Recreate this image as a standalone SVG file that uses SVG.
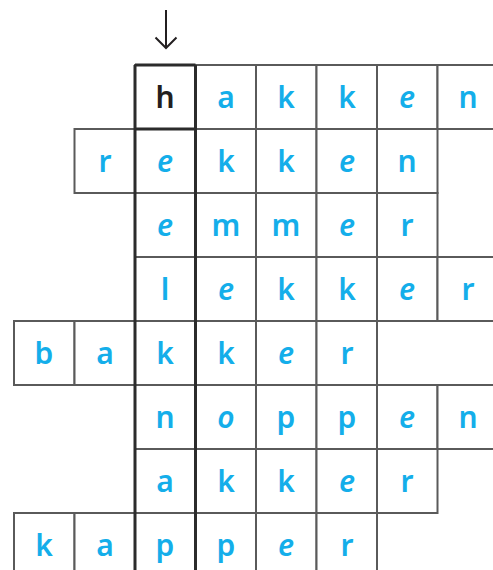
<svg xmlns="http://www.w3.org/2000/svg" width="493" height="570" viewBox="0 0 493 570">
<style>
.c{fill:#fff;stroke:#5a5a5a;stroke-width:2}
.t{font-family:"Noto Sans","Liberation Sans",sans-serif;font-size:30px;font-weight:600;fill:#14aeea;text-anchor:middle}
.i{font-style:italic}
.k{fill:#231f20}
.thick{fill:none;stroke:#2b2b2b;stroke-width:3}
</style>
<rect width="493" height="570" fill="#fff"/>
<g id="row1">
<rect class="c" x="135" y="65" width="60.5" height="64"/><rect class="c" x="195.5" y="65" width="60.5" height="64"/><rect class="c" x="256" y="65" width="60.5" height="64"/><rect class="c" x="316.5" y="65" width="60.5" height="64"/><rect class="c" x="377" y="65" width="60.5" height="64"/><rect class="c" x="437.5" y="65" width="60.5" height="64"/>
<text class="t k" x="165" y="108">h</text><text class="t" x="226" y="108">a</text><text class="t" x="286" y="108">k</text><text class="t" x="347" y="108">k</text><text class="t i" x="407" y="108">e</text><text class="t" x="468" y="108">n</text>
</g>
<g id="row2">
<rect class="c" x="74.5" y="129" width="60.5" height="64"/><rect class="c" x="135" y="129" width="60.5" height="64"/><rect class="c" x="195.5" y="129" width="60.5" height="64"/><rect class="c" x="256" y="129" width="60.5" height="64"/><rect class="c" x="316.5" y="129" width="60.5" height="64"/><rect class="c" x="377" y="129" width="60.5" height="64"/>
<text class="t" x="105" y="172">r</text><text class="t i" x="165" y="172">e</text><text class="t" x="226" y="172">k</text><text class="t" x="286" y="172">k</text><text class="t i" x="347" y="172">e</text><text class="t" x="407" y="172">n</text>
</g>
<g id="row3">
<rect class="c" x="135" y="193" width="60.5" height="64"/><rect class="c" x="195.5" y="193" width="60.5" height="64"/><rect class="c" x="256" y="193" width="60.5" height="64"/><rect class="c" x="316.5" y="193" width="60.5" height="64"/><rect class="c" x="377" y="193" width="60.5" height="64"/>
<text class="t i" x="165" y="236">e</text><text class="t" x="226" y="236">m</text><text class="t" x="286" y="236">m</text><text class="t i" x="347" y="236">e</text><text class="t" x="407" y="236">r</text>
</g>
<g id="row4">
<rect class="c" x="135" y="257" width="60.5" height="64"/><rect class="c" x="195.5" y="257" width="60.5" height="64"/><rect class="c" x="256" y="257" width="60.5" height="64"/><rect class="c" x="316.5" y="257" width="60.5" height="64"/><rect class="c" x="377" y="257" width="60.5" height="64"/><rect class="c" x="437.5" y="257" width="60.5" height="64"/>
<text class="t" x="165" y="300">l</text><text class="t i" x="226" y="300">e</text><text class="t" x="286" y="300">k</text><text class="t" x="347" y="300">k</text><text class="t i" x="407" y="300">e</text><text class="t" x="468" y="300">r</text>
</g>
<g id="row5">
<rect class="c" x="14" y="321" width="60.5" height="64"/><rect class="c" x="74.5" y="321" width="60.5" height="64"/><rect class="c" x="135" y="321" width="60.5" height="64"/><rect class="c" x="195.5" y="321" width="60.5" height="64"/><rect class="c" x="256" y="321" width="60.5" height="64"/><rect class="c" x="316.5" y="321" width="60.5" height="64"/>
<text class="t" x="44" y="364">b</text><text class="t" x="105" y="364">a</text><text class="t" x="165" y="364">k</text><text class="t" x="226" y="364">k</text><text class="t i" x="286" y="364">e</text><text class="t" x="347" y="364">r</text>
</g>
<g id="row6">
<rect class="c" x="135" y="385" width="60.5" height="64"/><rect class="c" x="195.5" y="385" width="60.5" height="64"/><rect class="c" x="256" y="385" width="60.5" height="64"/><rect class="c" x="316.5" y="385" width="60.5" height="64"/><rect class="c" x="377" y="385" width="60.5" height="64"/><rect class="c" x="437.5" y="385" width="60.5" height="64"/>
<text class="t" x="165" y="428">n</text><text class="t i" x="226" y="428">o</text><text class="t" x="286" y="428">p</text><text class="t" x="347" y="428">p</text><text class="t i" x="407" y="428">e</text><text class="t" x="468" y="428">n</text>
</g>
<g id="row7">
<rect class="c" x="135" y="449" width="60.5" height="64"/><rect class="c" x="195.5" y="449" width="60.5" height="64"/><rect class="c" x="256" y="449" width="60.5" height="64"/><rect class="c" x="316.5" y="449" width="60.5" height="64"/><rect class="c" x="377" y="449" width="60.5" height="64"/>
<text class="t" x="165" y="492">a</text><text class="t" x="226" y="492">k</text><text class="t" x="286" y="492">k</text><text class="t i" x="347" y="492">e</text><text class="t" x="407" y="492">r</text>
</g>
<g id="row8">
<rect class="c" x="14" y="513" width="60.5" height="64"/><rect class="c" x="74.5" y="513" width="60.5" height="64"/><rect class="c" x="135" y="513" width="60.5" height="64"/><rect class="c" x="195.5" y="513" width="60.5" height="64"/><rect class="c" x="256" y="513" width="60.5" height="64"/><rect class="c" x="316.5" y="513" width="60.5" height="64"/>
<text class="t" x="44" y="556">k</text><text class="t" x="105" y="556">a</text><text class="t" x="165" y="556">p</text><text class="t" x="226" y="556">p</text><text class="t i" x="286" y="556">e</text><text class="t" x="347" y="556">r</text>
</g>
<g id="column">
<path class="thick" d="M135,65V572M195.5,65V572M135,65H195.5M135,129H195.5"/>
</g>
<g id="connectors">
<path d="M166,10V48M155.5,37.5L166,48L176.5,37.5" fill="none" stroke="#231f20" stroke-width="2"/>
</g>
</svg>
